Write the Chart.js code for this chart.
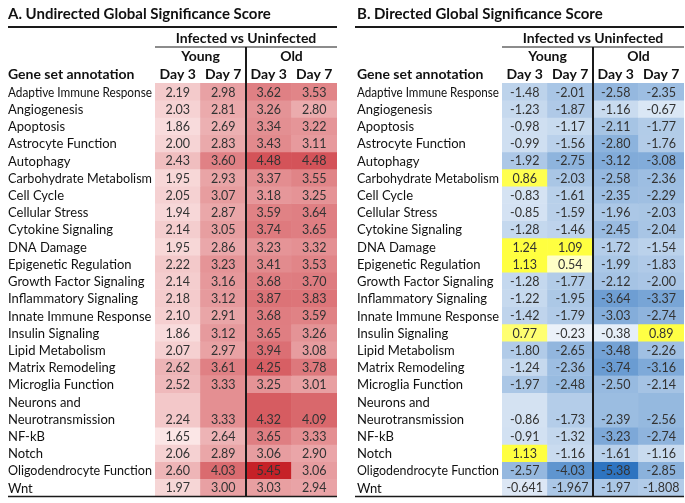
<!DOCTYPE html>
<html>
<head>
<meta charset="utf-8">
<script src="https://cdn.jsdelivr.net/npm/chart.js@4.4.1/dist/chart.umd.min.js"></script>
<style>
  html, body { margin: 0; padding: 0; background: #fff; }
  #wrap { position: relative; width: 685px; height: 503px; }
  #chartA { position: absolute; left: 0; top: 0; }
  #chartB { position: absolute; left: 342px; top: 0; }
</style>
</head>
<body>
<div id="wrap">
  <canvas id="chartA" width="342" height="503"></canvas>
  <canvas id="chartB" width="343" height="503"></canvas>
</div>
<script>
// Filas (gene sets) y columnas
const geneSets = [
    'Adaptive Immune Response', 'Angiogenesis', 'Apoptosis', 'Astrocyte Function',
    'Autophagy', 'Carbohydrate Metabolism', 'Cell Cycle', 'Cellular Stress',
    'Cytokine Signaling', 'DNA Damage', 'Epigenetic Regulation', 'Growth Factor Signaling',
    'Inflammatory Signaling', 'Innate Immune Response', 'Insulin Signaling', 'Lipid Metabolism',
    'Matrix Remodeling', 'Microglia Function', ['Neurons and', 'Neurotransmission'], 'NF-kB',
    'Notch', 'Oligodendrocyte Function', 'Wnt'
];
const groupLabels = ['Young', 'Old'];
const dayLabels = ['Day 3', 'Day 7', 'Day 3', 'Day 7'];

// A. Undirected
const youngDay3A = [2.19, 2.03, 1.86, 2.00, 2.43, 1.95, 2.05, 1.94, 2.14, 1.95, 2.22, 2.14, 2.18, 2.10, 1.86, 2.07, 2.62, 2.52, 2.24, 1.65, 2.06, 2.60, 1.97];
const youngDay7A = [2.98, 2.81, 2.69, 2.83, 3.60, 2.93, 3.07, 2.87, 3.05, 2.86, 3.23, 3.16, 3.12, 2.91, 3.12, 2.97, 3.61, 3.33, 3.33, 2.64, 2.89, 4.03, 3.00];
const oldDay3A   = [3.62, 3.26, 3.34, 3.43, 4.48, 3.37, 3.18, 3.59, 3.74, 3.23, 3.41, 3.68, 3.87, 3.68, 3.65, 3.94, 4.25, 3.25, 4.32, 3.65, 3.06, 5.45, 3.03];
const oldDay7A   = [3.53, 2.80, 3.22, 3.11, 4.48, 3.55, 3.25, 3.64, 3.65, 3.32, 3.53, 3.70, 3.83, 3.59, 3.26, 3.08, 3.78, 3.01, 4.09, 3.33, 2.90, 3.06, 2.94];

// B. Directed
const youngDay3B = [-1.48, -1.23, -0.98, -0.99, -1.92, 0.86, -0.83, -0.85, -1.28, 1.24, 1.13, -1.28, -1.22, -1.42, 0.77, -1.80, -1.24, -1.97, -0.86, -0.91, 1.13, -2.57, -0.641];
const youngDay7B = [-2.01, -1.87, -1.17, -1.56, -2.75, -2.03, -1.61, -1.59, -1.46, 1.09, 0.54, -1.77, -1.95, -1.79, -0.23, -2.65, -2.36, -2.48, -1.73, -1.32, -1.16, -4.03, -1.967];
const oldDay3B   = [-2.58, -1.16, -2.11, -2.80, -3.12, -2.58, -2.35, -1.96, -2.45, -1.72, -1.99, -2.12, -3.64, -3.03, -0.38, -3.48, -3.74, -2.50, -2.39, -3.23, -1.61, -5.38, -1.97];
const oldDay7B   = [-2.35, -0.67, -1.77, -1.76, -3.08, -2.36, -2.29, -2.03, -2.04, -1.54, -1.83, -2.00, -3.37, -2.74, 0.89, -2.26, -3.16, -2.14, -2.56, -2.74, -1.16, -2.85, -1.808];

const FONT = 'Lato, "Open Sans", sans-serif';

function mix(c0, c1, t) {
    t = Math.max(0, Math.min(1, t));
    const r = Math.round(c0[0] + (c1[0] - c0[0]) * t);
    const g = Math.round(c0[1] + (c1[1] - c0[1]) * t);
    const b = Math.round(c0[2] + (c1[2] - c0[2]) * t);
    return `rgb(${r},${g},${b})`;
}

// Escala roja para el panel A
function redScale(v) {
    return mix([253, 238, 238], [198, 33, 40], (v - 1.5) / (5.45 - 1.5));
}

// Azul para negativos, amarillo para positivos (panel B)
function blueYellowScale(v) {
    if (v >= 0) return mix([255, 255, 232], [255, 255, 64], (v - 0.45) / 0.45);
    return mix([243, 247, 252], [46, 116, 192], -v / 5.38);
}

function formatValue(v) {
    const s = String(v);
    const dec = s.includes('.') ? s.split('.')[1].length : 0;
    return dec > 2 ? s : v.toFixed(2);
}

// Posición de cada fila en unidades (Neurons ocupa dos)
const rowStart = [];
let units = 0;
geneSets.forEach(g => {
    rowStart.push(units);
    units += Array.isArray(g) ? g.length : 1;
});
const totalUnits = units;

const tablePlugin = {
    id: 'tableText',
    afterDatasetsDraw(chart, args, opts) {
        const c = chart.ctx;
        const area = chart.chartArea;
        const yScale = chart.scales.y;
        const cols = opts.columns;
        c.save();
        c.textBaseline = 'middle';

        // valores
        c.font = `12.5px ${FONT}`;
        c.textAlign = 'center';
        c.fillStyle = '#333';
        geneSets.forEach((g, i) => {
            const meta = chart.getDatasetMeta(i);
            const lines = Array.isArray(g) ? g.length : 1;
            const yv = yScale.getPixelForValue(rowStart[i] + lines - 0.5);
            meta.data.forEach((bar, j) => {
                c.fillText(formatValue(cols[j][i]), bar.x, yv + 1);
            });
        });

        // etiquetas de filas
        c.fillStyle = '#111';
        c.textAlign = 'left';
        c.font = `13px ${FONT}`;
        const maxW = area.left - opts.labelX - 3;
        geneSets.forEach((g, i) => {
            const lines = Array.isArray(g) ? g : [g];
            lines.forEach((t, k) => {
                const w = c.measureText(t).width;
                const y = yScale.getPixelForValue(rowStart[i] + k + 0.5) + 1;
                if (w > maxW) c.fillText(t, opts.labelX, y, maxW);
                else c.fillText(t, opts.labelX, y);
            });
        });

        // cabeceras
        const bars = chart.getDatasetMeta(0).data;
        const half = bars[0].width / 2;
        const midX = bars[2].x - half;
        c.font = `bold 15px ${FONT}`;
        c.fillText(opts.title, opts.labelX, 14);
        c.font = `bold 14px ${FONT}`;
        c.fillText('Gene set annotation', opts.labelX, 74);
        c.textAlign = 'center';
        c.fillText('Infected vs Uninfected', (area.left + area.right) / 2, 38);
        c.fillText(groupLabels[0], (area.left + midX) / 2, 56);
        c.fillText(groupLabels[1], (midX + area.right) / 2, 56);
        bars.forEach((bar, j) => c.fillText(dayLabels[j], bar.x, 74));

        // líneas
        c.strokeStyle = '#1a1a1a';
        c.lineWidth = 2;
        c.beginPath();
        c.moveTo(opts.lineX0, 27); c.lineTo(area.right, 27);
        c.stroke();
        c.lineWidth = 1.2;
        c.beginPath();
        c.moveTo(area.left, 47); c.lineTo(area.right, 47);
        c.stroke();
        c.lineWidth = 1.5;
        c.beginPath();
        c.moveTo(opts.lineX0, area.bottom + 0.5); c.lineTo(area.right, area.bottom + 0.5);
        c.stroke();
        c.lineWidth = 2;
        c.beginPath();
        c.moveTo(midX, 47); c.lineTo(midX, area.bottom);
        c.stroke();
        c.restore();
    }
};

function buildChart(canvasId, cols, colorFn, pad, labelX, lineX0, title) {
    const datasets = geneSets.map((g, i) => {
        const lines = Array.isArray(g) ? g.length : 1;
        return {
            label: Array.isArray(g) ? g.join(' ') : g,
            data: cols.map(() => [rowStart[i], rowStart[i] + lines]),
            backgroundColor: cols.map(col => colorFn(col[i])),
            borderWidth: 0,
            barPercentage: 1,
            categoryPercentage: 1,
            grouped: false
        };
    });
    return new Chart(document.getElementById(canvasId).getContext('2d'), {
        type: 'bar',
        data: { labels: ['Young Day 3', 'Young Day 7', 'Old Day 3', 'Old Day 7'], datasets },
        options: {
            responsive: false,
            animation: false,
            layout: { padding: pad },
            plugins: {
                legend: { display: false },
                tooltip: { enabled: false },
                tableText: { columns: cols, labelX, lineX0, title }
            },
            scales: {
                x: { display: false },
                y: { display: false, min: 0, max: totalUnits, reverse: true }
            }
        },
        plugins: [tablePlugin]
    });
}

buildChart('chartA', [youngDay3A, youngDay7A, oldDay3A, oldDay7A], redScale,
    { left: 155, right: 5, top: 83, bottom: 7 }, 8, 8, 'A. Undirected Global Significance Score');
buildChart('chartB', [youngDay3B, youngDay7B, oldDay3B, oldDay7B], blueYellowScale,
    { left: 160, right: 1, top: 83, bottom: 7 }, 15, 13, 'B. Directed Global Significance Score');
</script>
</body>
</html>
